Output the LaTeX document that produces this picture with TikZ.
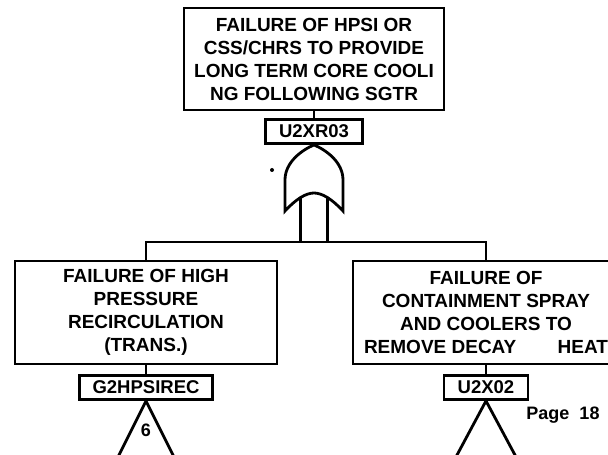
\documentclass[tikz,border=0pt]{standalone}
\usepackage{fontspec}
\setmainfont{Liberation Sans}
\usetikzlibrary{positioning}

\begin{document}
\begin{tikzpicture}[x=1pt,y=1pt,
    event/.style={draw,line width=2.6pt,inner sep=0pt,align=center,
      font=\bfseries\fontsize{19}{23}\selectfont},
    tag/.style={draw,line width=2.6pt,inner sep=0pt,minimum height=24pt,
      font=\bfseries\fontsize{18.5}{20}\selectfont},
    wire/.style={line width=2.4pt},
    xfer/.style={line width=2.8pt,line join=miter}]
\useasboundingbox (0,0) rectangle (608,455);
% top event and its gate
\node[event,minimum width=260pt,minimum height=102pt] (top) at (314,396)
  {FAILURE OF HPSI OR\\CSS/CHRS TO PROVIDE\\LONG TERM CORE COOLI\\NG FOLLOWING SGTR};
\node[tag,minimum width=97pt,below=7pt of top] (toptag) {U2XR03};
\draw[wire] (top) -- (toptag);
\draw[xfer] (toptag.south) .. controls (302,305) and (285,293) .. (285,275)
  -- (285,244) .. controls (296,256) and (306,262) .. (314,262)
  .. controls (322,262) and (332,256) .. (343,244)
  -- (343,275) .. controls (343,293) and (326,305) .. (toptag.south);
\fill (272,285) circle (2pt);
\coordinate (orinA) at (300.5,258);
\coordinate (orinB) at (327.5,258);
\coordinate (bus) at (314,213);
% branches
\node[event,minimum width=262pt,minimum height=103pt] (hpr) at (146,142.5)
  {FAILURE OF HIGH\\PRESSURE\\RECIRCULATION\\(TRANS.)};
\node[event,minimum width=266pt,minimum height=103pt] (csc) at (486,142.5)
  {FAILURE OF\\CONTAINMENT SPRAY\\AND COOLERS TO\\\makebox[244pt]{REMOVE DECAY\hfill HEAT}};
\draw[wire] (orinA) -- (orinA |- bus);
\draw[wire] (orinB) -- (orinB |- bus);
\draw[wire] (hpr.north) |- (bus) -| (csc.north);
\node[tag,minimum width=133pt,below=9pt of hpr] (hprtag) {G2HPSIREC};
\node[tag,minimum width=84pt,below=9pt of csc] (csctag) {U2X02};
\draw[wire] (hpr) -- (hprtag);
\draw[wire] (csc) -- (csctag);
% transfers
\draw[xfer] (hprtag.south) -- ++(-28,-56) -- ++(56,0) -- cycle;
\node[font=\bfseries\fontsize{18}{20}\selectfont] (hprno) at ([yshift=-29pt]hprtag.south) {6};
\draw[xfer] (csctag.south) -- ++(-30,-56) -- ++(60,0) -- cycle;
\node[font=\bfseries\fontsize{18}{20}\selectfont] (pg) at (563,40) {Page\ \ 18};
\end{tikzpicture}
\end{document}
